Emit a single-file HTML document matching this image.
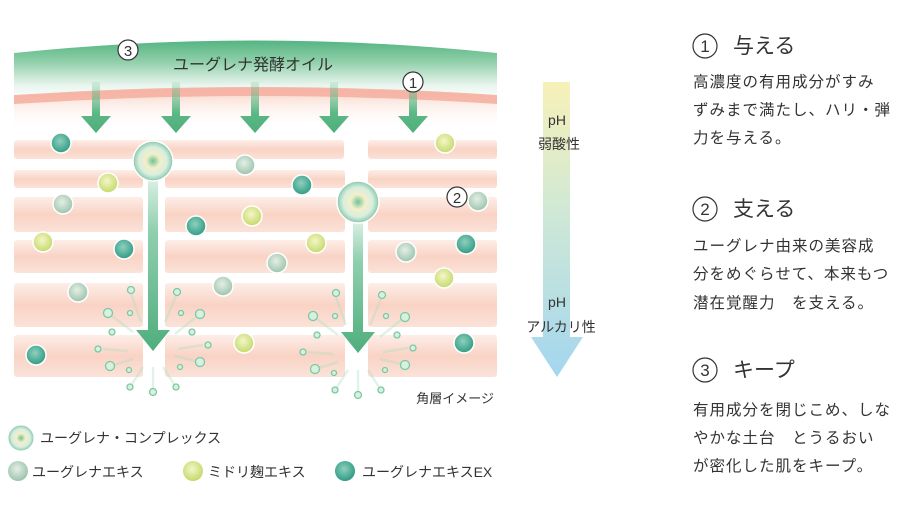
<!DOCTYPE html>
<html><head><meta charset="utf-8"><style>
html,body{margin:0;padding:0;background:#fff;width:921px;height:524px;overflow:hidden}
svg{display:block}
text{font-family:"Liberation Sans","Noto Sans CJK JP",sans-serif;fill:#333}
</style></head><body>
<svg width="921" height="524" viewBox="0 0 921 524" xmlns="http://www.w3.org/2000/svg">
<defs>
<linearGradient id="band" x1="0" y1="0" x2="0" y2="1">
<stop offset="0" stop-color="#55b482"/><stop offset="0.35" stop-color="#8fcfa9"/><stop offset="0.75" stop-color="#e8f5ee"/><stop offset="1" stop-color="#ffffff"/></linearGradient>
<linearGradient id="pinkfade" x1="0" y1="0" x2="0" y2="1">
<stop offset="0" stop-color="#f8cfc0"/><stop offset="1" stop-color="#fff" stop-opacity="0"/></linearGradient>
<linearGradient id="cell" x1="0" y1="0" x2="0" y2="1">
<stop offset="0" stop-color="#fdeee8"/><stop offset="0.5" stop-color="#f9d3c5"/><stop offset="1" stop-color="#fbe2d8"/></linearGradient>
<linearGradient id="sarrow" x1="0" y1="0" x2="0" y2="1">
<stop offset="0" stop-color="#5cb985" stop-opacity="0.15"/><stop offset="0.6" stop-color="#5cb985"/><stop offset="1" stop-color="#4fae7c"/></linearGradient>
<linearGradient id="barrow" x1="0" y1="0" x2="0" y2="1">
<stop offset="0" stop-color="#d8efe2"/><stop offset="0.3" stop-color="#8fcfae"/><stop offset="1" stop-color="#4fae7c"/></linearGradient>
<linearGradient id="ph" x1="0" y1="0" x2="0" y2="1">
<stop offset="0" stop-color="#f7f1b8"/><stop offset="0.45" stop-color="#cfe8d6"/><stop offset="1" stop-color="#a3d6ef"/></linearGradient>
<radialGradient id="teal" cx="0.45" cy="0.4" r="0.6"><stop offset="0" stop-color="#8fd0bd"/><stop offset="1" stop-color="#2f9b84"/></radialGradient>
<radialGradient id="gray" cx="0.45" cy="0.4" r="0.6"><stop offset="0" stop-color="#e4efe6"/><stop offset="1" stop-color="#9cc3ac"/></radialGradient>
<radialGradient id="yel" cx="0.45" cy="0.4" r="0.6"><stop offset="0" stop-color="#f4f6c8"/><stop offset="1" stop-color="#c4d96a"/></radialGradient>
<radialGradient id="cx"><stop offset="0" stop-color="#6cc39a"/><stop offset="0.35" stop-color="#f3efc8"/><stop offset="0.7" stop-color="#d9eedf"/><stop offset="0.9" stop-color="#a2d5bd"/><stop offset="1" stop-color="#7cc4a3"/></radialGradient>
<g id="splash" stroke="#7cc9a0" stroke-width="1.3" fill="#d8f0e2">
<g stroke="#a8dcbd" stroke-opacity="0.35" stroke-width="2.5">
<line x1="-22" y1="-58" x2="-12" y2="-30"/><line x1="-41" y1="-36" x2="-20" y2="-20"/><line x1="-50" y1="-3" x2="-25" y2="-1"/><line x1="-39" y1="13" x2="-20" y2="7"/><line x1="-21" y1="32" x2="-10" y2="15"/><line x1="0" y1="36" x2="0" y2="15"/><line x1="21" y1="32" x2="10" y2="15"/><line x1="43" y1="9" x2="22" y2="4"/><line x1="50" y1="-7" x2="25" y2="-3"/><line x1="43" y1="-35" x2="22" y2="-18"/><line x1="23" y1="-56" x2="12" y2="-30"/>
</g>
<circle cx="-22" cy="-62" r="3.5"/><circle cx="-45" cy="-39" r="4.5"/><circle cx="-23" cy="-39" r="2.5"/><circle cx="-41" cy="-20" r="3"/><circle cx="-55" cy="-3" r="3"/><circle cx="-43" cy="14" r="4.5"/><circle cx="-24" cy="18" r="2.5"/><circle cx="-23" cy="35" r="3"/><circle cx="0" cy="40" r="3.5"/><circle cx="23" cy="35" r="3"/><circle cx="27" cy="15" r="2.5"/><circle cx="47" cy="10" r="4.5"/><circle cx="55" cy="-7" r="3"/><circle cx="39" cy="-20" r="3"/><circle cx="47" cy="-38" r="4.5"/><circle cx="28" cy="-39" r="2.5"/><circle cx="24" cy="-60" r="3.5"/>
</g>
</defs>

<path d="M14 53 Q255 28 497 53 L497 100 Q255 80 14 100 Z" fill="url(#band)"/>
<path d="M14 96 Q255 80 497 96 L497 130 Q255 115 14 130 Z" fill="url(#pinkfade)"/>
<path d="M14 95 Q255 79 497 95 L497 104 Q255 88 14 104 Z" fill="#f4ae9f" opacity="0.85"/>
<text x="253" y="70" font-size="16" text-anchor="middle">ユーグレナ発酵オイル</text>

<g fill="url(#cell)">
<rect x="14" y="140" width="330" height="19" rx="3"/><rect x="368" y="140" width="129" height="19" rx="3"/>
<rect x="14" y="170" width="129" height="18" rx="3"/><rect x="165" y="170" width="180" height="18" rx="3"/><rect x="368" y="170" width="129" height="18" rx="3"/>
<rect x="14" y="197" width="129" height="35" rx="3"/><rect x="165" y="197" width="180" height="35" rx="3"/><rect x="368" y="197" width="129" height="35" rx="3"/>
<rect x="14" y="240" width="129" height="33" rx="3"/><rect x="165" y="240" width="180" height="33" rx="3"/><rect x="368" y="240" width="129" height="33" rx="3"/>
<rect x="14" y="283" width="129" height="44" rx="3"/><rect x="165" y="283" width="180" height="44" rx="3"/><rect x="368" y="283" width="129" height="44" rx="3"/>
<rect x="14" y="335" width="129" height="42" rx="3"/><rect x="165" y="335" width="180" height="42" rx="3"/><rect x="368" y="335" width="129" height="42" rx="3"/>
</g>

<g fill="url(#sarrow)">
<path d="M92 82h8v34h11l-15 17l-15-17h11z"/>
<path d="M172 82h8v34h11l-15 17l-15-17h11z"/>
<path d="M251 82h8v34h11l-15 17l-15-17h11z"/>
<path d="M330 82h8v34h11l-15 17l-15-17h11z"/>
<path d="M409 82h8v34h11l-15 17l-15-17h11z"/>
</g>

<use href="#splash" x="153" y="352"/>
<use href="#splash" x="358" y="355"/>

<path d="M148 180h10v150h12l-17 21l-17-21h12z" fill="url(#barrow)"/>
<path d="M353 222h10v110h12l-17 21l-17-21h12z" fill="url(#barrow)"/>

<g stroke="#fff" stroke-width="1.5">
<g fill="url(#teal)"><circle cx="61" cy="143" r="10"/><circle cx="302" cy="185" r="10"/><circle cx="196" cy="226" r="10"/><circle cx="124" cy="249" r="10"/><circle cx="466" cy="244" r="10"/><circle cx="464" cy="343" r="10"/><circle cx="36" cy="355" r="10"/></g>
<g fill="url(#gray)"><circle cx="245" cy="165" r="10"/><circle cx="63" cy="204" r="10"/><circle cx="277" cy="263" r="10"/><circle cx="223" cy="286" r="10"/><circle cx="78" cy="292" r="10"/><circle cx="406" cy="252" r="10"/><circle cx="478" cy="201" r="10"/></g>
<g fill="url(#yel)"><circle cx="445" cy="143" r="10"/><circle cx="108" cy="183" r="10"/><circle cx="252" cy="216" r="10"/><circle cx="43" cy="242" r="10"/><circle cx="316" cy="243" r="10"/><circle cx="444" cy="278" r="10"/><circle cx="244" cy="343" r="10"/></g>
<g fill="url(#cx)"><circle cx="153" cy="161" r="20"/><circle cx="358" cy="202" r="21"/></g>
</g>

<g fill="#fff" stroke="#333" stroke-width="1.2">
<circle cx="128" cy="50" r="10"/><circle cx="413" cy="82" r="10"/><circle cx="457" cy="197" r="10"/>
</g>
<g font-size="15" text-anchor="middle"><text x="128" y="56">3</text><text x="413" y="88">1</text><text x="457" y="203">2</text></g>

<text x="494" y="403" font-size="13" text-anchor="end">角層イメージ</text>

<path d="M543 82h27v255h13l-26 40l-26-40h12z" fill="url(#ph)"/>
<g font-size="14" text-anchor="middle"><text x="557" y="125">pH</text><text x="559" y="149">弱酸性</text><text x="557" y="307">pH</text><text x="561" y="332">アルカリ性</text></g>

<circle cx="21" cy="438" r="13" fill="url(#cx)" stroke="#fff"/>
<text x="40" y="443" font-size="14">ユーグレナ・コンプレックス</text>
<circle cx="18" cy="471" r="10" fill="url(#gray)"/><text x="32" y="477" font-size="14">ユーグレナエキス</text>
<circle cx="193" cy="471" r="10" fill="url(#yel)"/><text x="208" y="477" font-size="14">ミドリ麹エキス</text>
<circle cx="345" cy="471" r="10" fill="url(#teal)"/><text x="362" y="477" font-size="14">ユーグレナエキスEX</text>

<g fill="none" stroke="#333" stroke-width="1.2"><circle cx="705" cy="46" r="12"/><circle cx="705" cy="209" r="12"/><circle cx="705" cy="370" r="12"/></g>
<g font-size="17" text-anchor="middle"><text x="705" y="52">1</text><text x="705" y="215">2</text><text x="705" y="376">3</text></g>
<g font-size="21"><text x="733" y="53">与える</text><text x="733" y="216">支える</text><text x="733" y="377">キープ</text></g>
<g font-size="15.5" letter-spacing="1">
<text x="693" y="87">高濃度の有用成分がすみ</text><text x="693" y="115">ずみまで満たし、ハリ・弾</text><text x="693" y="143">力を与える。</text>
<text x="693" y="251">ユーグレナ由来の美容成</text><text x="693" y="279">分をめぐらせて、本来もつ</text><text x="693" y="308">潜在覚醒力　を支える。</text>
<text x="693" y="415">有用成分を閉じこめ、しな</text><text x="693" y="443">やかな土台　とうるおい</text><text x="693" y="471">が密化した肌をキープ。</text>
</g>
</svg>
</body></html>
